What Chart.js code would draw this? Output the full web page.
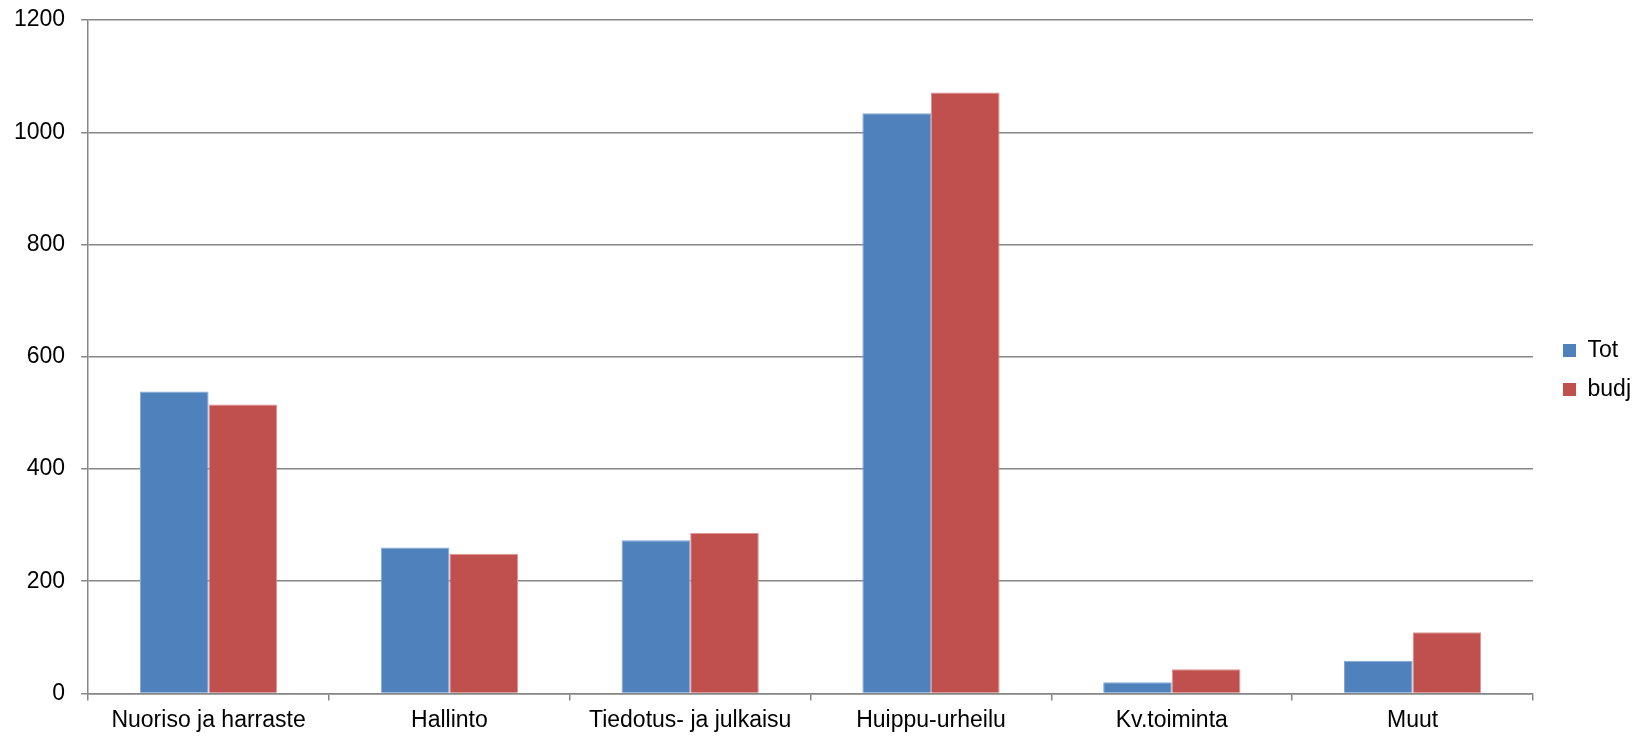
<!DOCTYPE html>
<html>
<head>
<meta charset="utf-8">
<script src="https://cdn.jsdelivr.net/npm/chart.js@4"></script>
<style>
  body { margin: 0; background: #fff; }
  canvas { display: block; }
</style>
</head>
<body>
<canvas id="chart" width="1635" height="736"></canvas>
<script>
const categories = ["Nuoriso ja harraste", "Hallinto", "Tiedotus- ja julkaisu", "Huippu-urheilu", "Kv.toiminta", "Muut"];
const tot = [538, 260, 273, 1034, 20, 58];
const budj = [515, 249, 286, 1071, 43, 109];
const yTicks = [0, 200, 400, 600, 800, 1000, 1200];

const blue = ["#4F81BD", "#86A8D3"];
const red = ["#C0504D", "#DC9593"];
const gridColor = "#868686";
const font = { family: "Arial, 'Liberation Sans', sans-serif", size: 23 };

Chart.defaults.font.family = font.family;
Chart.defaults.font.size = font.size;
Chart.defaults.color = "#000";

const ctx = document.getElementById("chart");

new Chart(ctx, {
  type: "bar",
  data: {
    labels: categories,
    datasets: [
      { label: "Tot", data: tot, backgroundColor: blue[0], borderColor: blue[1], borderWidth: 1 },
      { label: "budj", data: budj, backgroundColor: red[0], borderColor: red[1], borderWidth: 1 },
    ],
  },
  options: {
    responsive: false,
    animation: false,
    devicePixelRatio: 1,
    categoryPercentage: 0.57,
    barPercentage: 1,
    layout: { padding: { left: -2, top: 0, right: -6, bottom: -4 } },
    plugins: {
      tooltip: { enabled: false },
      legend: {
        position: "right",
        labels: {
          boxWidth: 13,
          boxHeight: 13,
          padding: 16,
          font: font,
          // legend squares without the bar border
          generateLabels: (chart) =>
            Chart.defaults.plugins.legend.labels.generateLabels(chart).map((item) => ({
              ...item,
              strokeStyle: item.fillStyle,
              lineWidth: 0,
            })),
        },
      },
    },
    scales: {
      x: {
        grid: {
          drawOnChartArea: false,
          drawTicks: true,
          tickLength: 7,
          color: gridColor,
          lineWidth: 1.5,
        },
        border: { color: gridColor, width: 1.5 },
        ticks: { padding: 6, font: font },
      },
      y: {
        min: 0,
        max: 1200,
        afterBuildTicks: (axis) => {
          axis.ticks = yTicks.map((v) => ({ value: v }));
        },
        grid: {
          color: gridColor,
          lineWidth: 1.5,
          tickLength: 7,
        },
        border: { color: gridColor, width: 1.5 },
        // small lineHeight so the top label does not push the plot down
        ticks: { padding: 16, font: { ...font, lineHeight: 0.35 }, callback: (v) => String(v) },
      },
      // empty spacer between plot and legend
      gap: {
        type: "linear",
        position: "right",
        grid: { display: false },
        border: { display: false },
        ticks: { display: false },
        afterFit: (axis) => {
          axis.width = 14;
        },
      },
    },
  },
});
</script>
</body>
</html>
